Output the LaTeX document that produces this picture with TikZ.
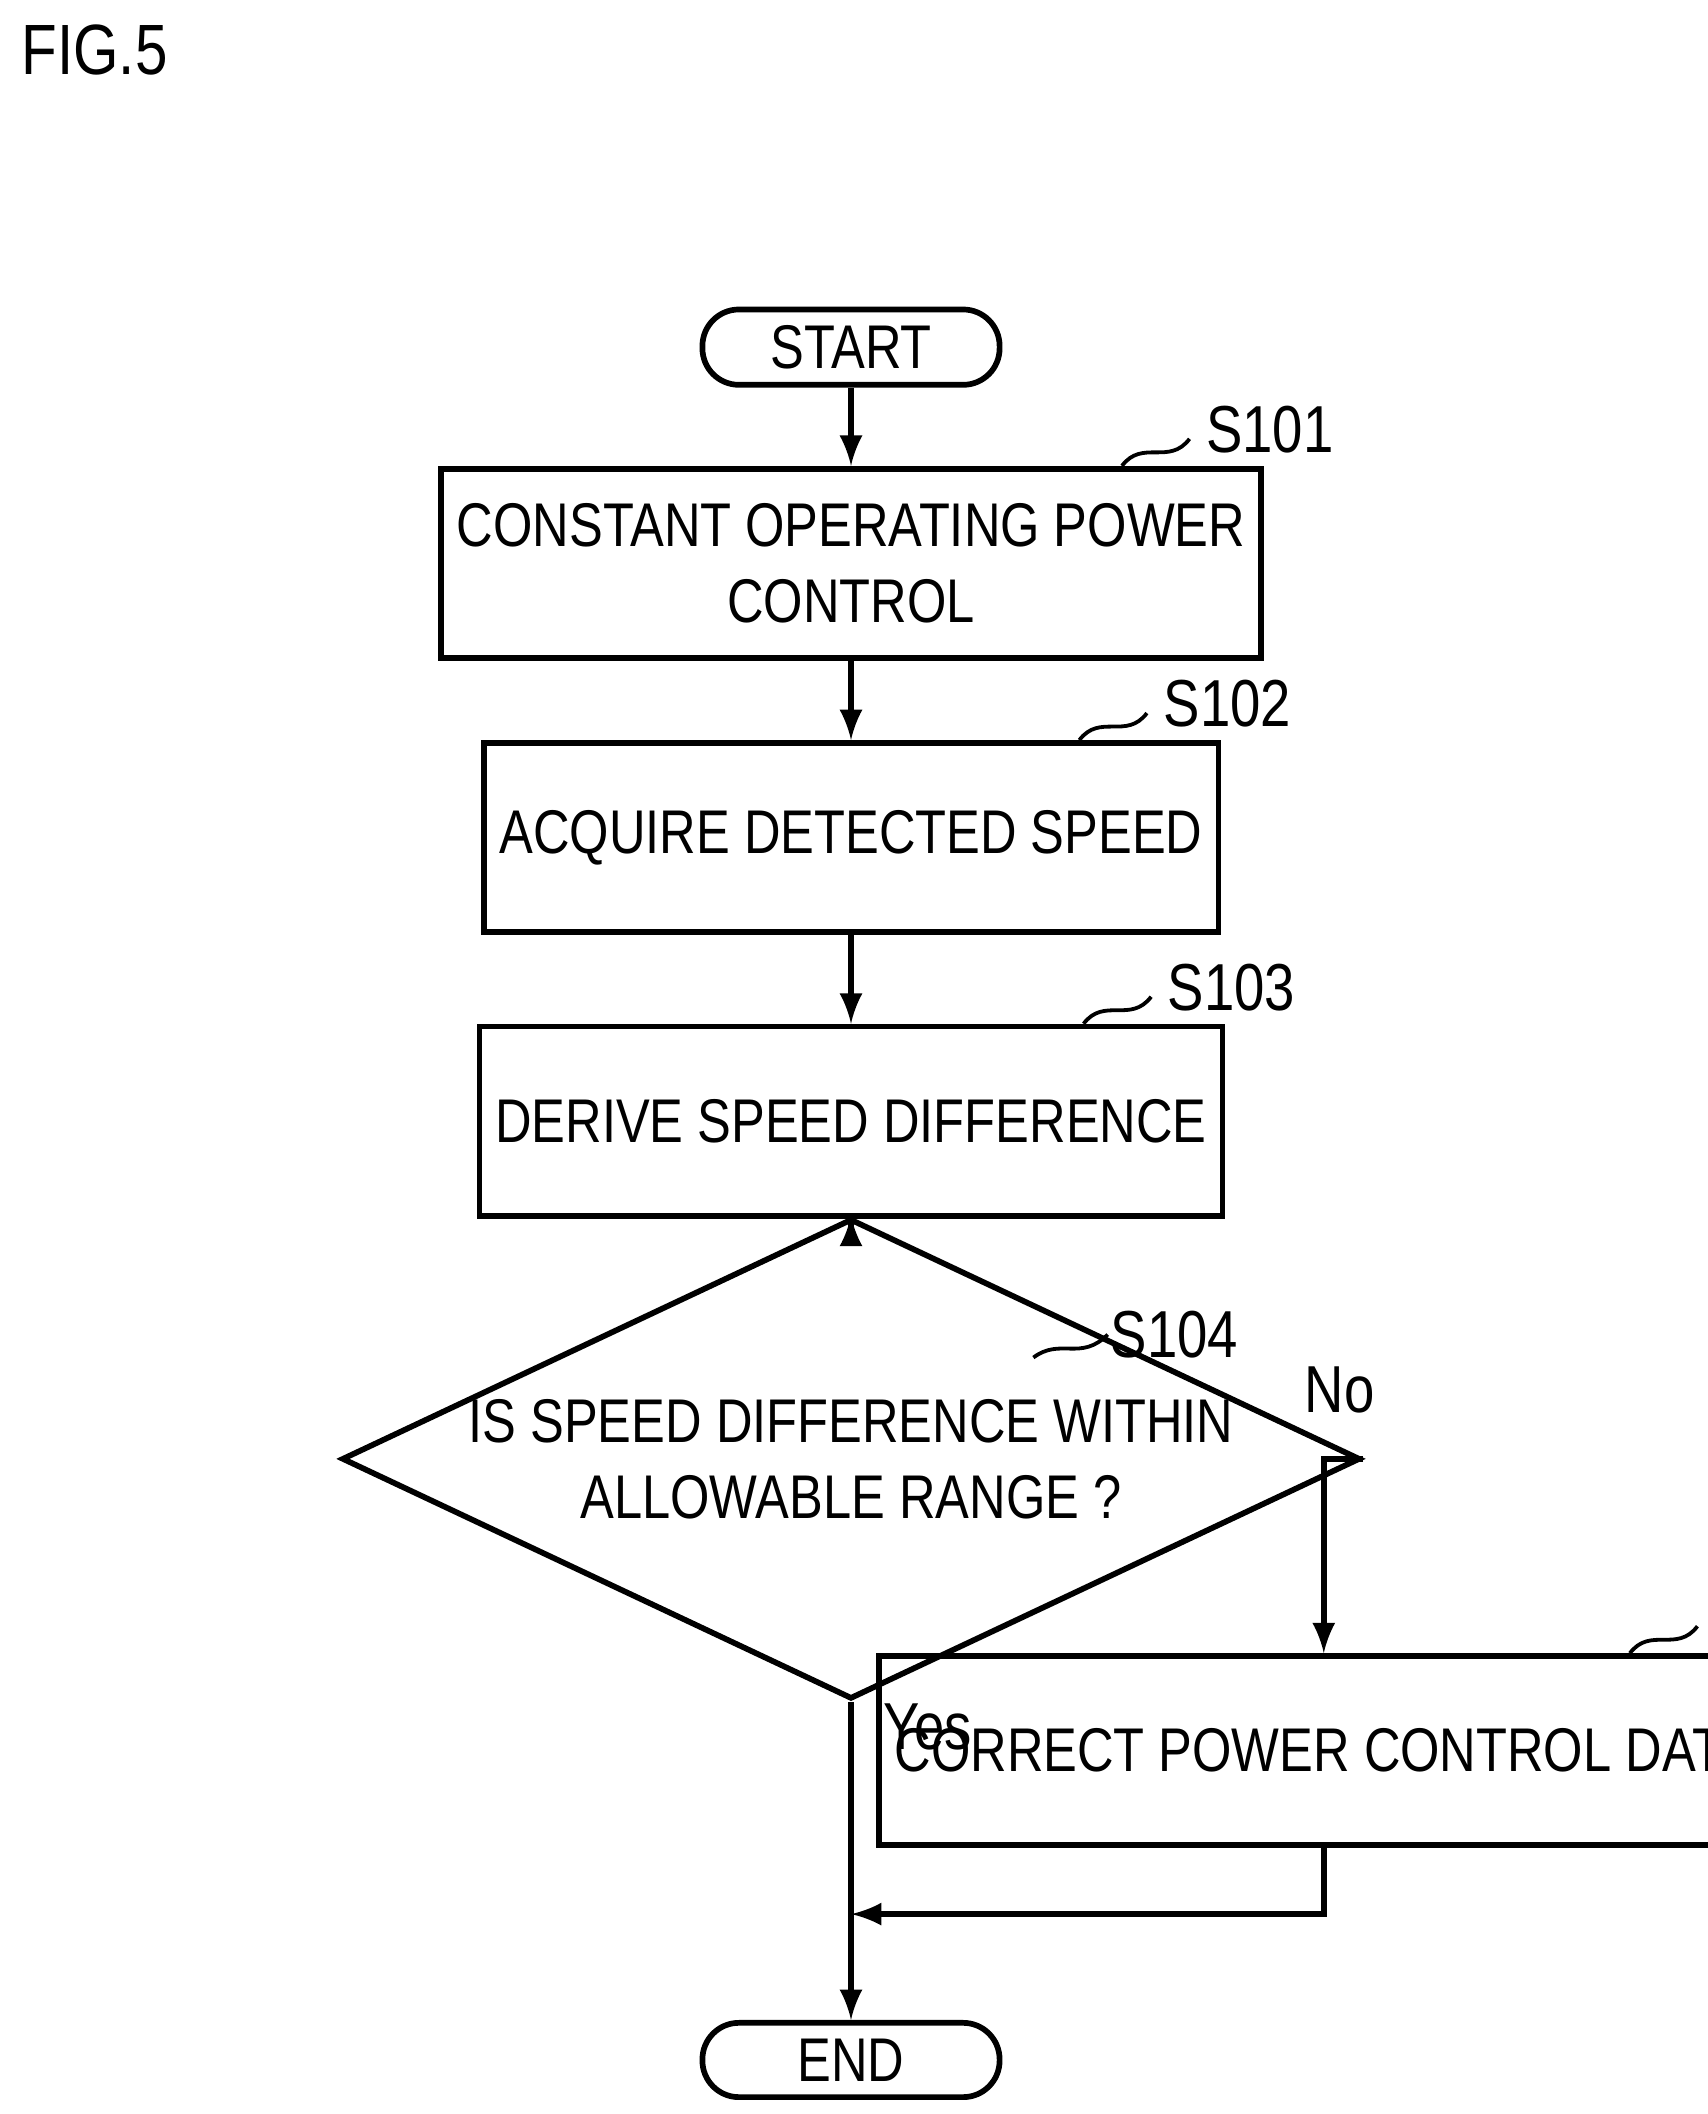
\documentclass[tikz,border=0pt]{standalone}
\usepackage{fontspec}
\setmainfont{Liberation Sans}[FakeStretch=0.82]
\usetikzlibrary{shapes.geometric,positioning}

\tikzset{
  proc/.style={draw, line width=1.2pt, minimum width=4.91cm, minimum height=1.4cm, align=center, font=\fontsize{13}{16}\selectfont},
  term/.style={draw, line width=1.2pt, rounded corners=0.27cm, minimum width=2.2cm, minimum height=0.55cm, font=\fontsize{13}{16}\selectfont},
  flow/.style={line width=1.2pt, -latex},
  tag/.style={font=\fontsize{14}{16}\selectfont},
}

\begin{document}
\begin{tikzpicture}
  \useasboundingbox (0,0) rectangle (12.64,-15.65);
  \node[font=\fontsize{15}{18}\selectfont] at (0.7,-0.37) {FIG.5};

  % Terminals and steps
  \node[term] (start) at (6.3,-2.57) {START};
  \node[proc] (s101) at (6.3,-4.17) {CONSTANT OPERATING POWER\\CONTROL};
  \node[proc] (s102) at (6.3,-6.2) {ACQUIRE DETECTED SPEED};
  \node[proc] (s103) at (6.3,-8.3) {DERIVE SPEED DIFFERENCE};
  \node[draw, line width=1.2pt, diamond, aspect=2.12, minimum width=5.6cm, minimum height=2.64cm, inner sep=0pt, align=center, font=\fontsize{13}{16}\selectfont] (s104) at (6.3,-10.8) {IS SPEED DIFFERENCE WITHIN\\ALLOWABLE RANGE ?};
  \node[proc] (s105) at (9.8,-12.96) {CORRECT POWER CONTROL DATA};
  \node[term] (end) at (6.3,-15.25) {END};

  % Step tags
  \foreach \n/\t in {s101/S101, s102/S102, s103/S103, s105/S105}{
    \draw[line width=0.8pt] ([xshift=-1.05cm]\n.north east) .. controls +(0.15,0.2) and +(-0.15,-0.2) .. ++(0.5,0.2);
    \node[tag, anchor=west] at ([xshift=-0.55cm, yshift=0.27cm]\n.north east) {\t};
  }
  \draw[line width=0.8pt] (7.65,-10.05) .. controls +(0.2,0.15) and +(-0.2,-0.2) .. (8.2,-9.88);
  \node[tag, anchor=west] at (8.1,-9.88) {S104};

  % Connectors
  \draw[flow] (start) -- (s101);
  \draw[flow] (s101) -- (s102);
  \draw[flow] (s102) -- (s103);
  \draw[flow] (s103) -- (s104);
  \draw[flow] (s104.east) -| (s105.north) node[tag, pos=0.3, above=0.2cm] {No};
  \coordinate (join) at (6.3,-14.17);
  \draw[flow] (s104.south) -- (end) node[tag, pos=0.08, right=0.1cm] {Yes};
  \draw[flow] (s105.south) |- (join);
\end{tikzpicture}
\end{document}
